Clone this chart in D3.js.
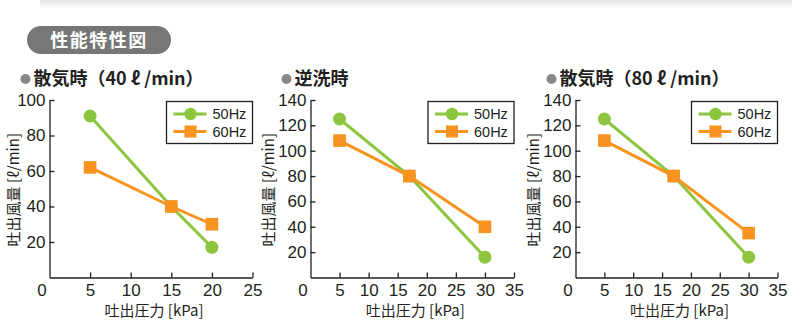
<!DOCTYPE html>
<html>
<head>
<meta charset="utf-8">
<script src="https://cdn.jsdelivr.net/npm/d3@7"></script>
<style>
  body { margin: 0; background: #fff; }
  svg { display: block; font-family: "Liberation Sans", "Noto Sans CJK JP", sans-serif; }
</style>
</head>
<body>
<div id="chart"></div>
<script>
// data
const seriesNames = ['50Hz', '60Hz'];
const chartTitles = ['散気時（40 ℓ /min）', '逆洗時', '散気時（80 ℓ /min）'];
const pressure1 = [5, 15, 20];
const flow50Hz1 = [91, 40, 17];
const flow60Hz1 = [62, 40, 30];
const pressure2 = [5, 17, 30];
const flow50Hz2 = [125, 80, 16];
const flow60Hz2 = [108, 80, 40];
const pressure3 = [5, 17, 30];
const flow50Hz3 = [125, 80, 16];
const flow60Hz3 = [108, 80, 35];
const xTicks1 = [0, 5, 10, 15, 20, 25];
const xTicks23 = [0, 5, 10, 15, 20, 25, 30, 35];
const yTicks1 = [20, 40, 60, 80, 100];
const yTicks23 = [20, 40, 60, 80, 100, 120, 140];

const colors = { '50Hz': '#8cc63f', '60Hz': '#f7931e' };
const ink = '#231f20';

const width = 809, height = 327;
const svg = d3.select('#chart').append('svg')
  .attr('width', width)
  .attr('height', height);

// faint band at the top
const defs = svg.append('defs');
const grad = defs.append('linearGradient').attr('id', 'topband').attr('x1', 0).attr('x2', 0).attr('y1', 0).attr('y2', 1);
grad.append('stop').attr('offset', 0).attr('stop-color', '#e4e4e4');
grad.append('stop').attr('offset', 1).attr('stop-color', '#fff');
svg.append('rect').attr('x', 40).attr('y', 0).attr('width', 752).attr('height', 9).attr('fill', 'url(#topband)');

// header badge
svg.append('rect')
  .attr('x', 27).attr('y', 26).attr('width', 144).attr('height', 28)
  .attr('rx', 14).attr('fill', '#777');
svg.append('text')
  .attr('x', 99).attr('y', 47)
  .attr('text-anchor', 'middle')
  .attr('fill', '#fff')
  .attr('font-family', '"Noto Sans CJK JP", sans-serif')
  .attr('font-weight', 'bold')
  .attr('font-size', 18)
  .attr('letter-spacing', 1.5)
  .text('性能特性図');

const charts = [
  { title: chartTitles[0], x: pressure1, s50: flow50Hz1, s60: flow60Hz1, xMax: 25, yMax: 100,
    xTicks: xTicks1, yTicks: yTicks1, left: 49.5, right: 252.5, labelOff: 36 },
  { title: chartTitles[1], x: pressure2, s50: flow50Hz2, s60: flow60Hz2, xMax: 35, yMax: 140,
    xTicks: xTicks23, yTicks: yTicks23, left: 310.5, right: 514, labelOff: 42 },
  { title: chartTitles[2], x: pressure3, s50: flow50Hz3, s60: flow60Hz3, xMax: 35, yMax: 140,
    xTicks: xTicks23, yTicks: yTicks23, left: 575.5, right: 777.5, labelOff: 42 }
];

const plotTop = 100, plotBottom = 277.5;

charts.forEach(c => {
  const g = svg.append('g');
  const x = d3.scaleLinear().domain([0, c.xMax]).range([c.left, c.right]);
  const y = d3.scaleLinear().domain([0, c.yMax]).range([plotBottom, plotTop]);

  // title
  g.append('circle').attr('cx', c.left - 24).attr('cy', 79).attr('r', 5).attr('fill', '#888');
  g.append('text')
    .attr('x', c.left - 16).attr('y', 85)
    .attr('fill', ink)
    .attr('font-family', '"Noto Sans CJK JP", sans-serif')
    .attr('font-weight', 'bold')
    .attr('font-size', 18)
    .text(c.title);

  // axes
  const xAxis = g.append('g')
    .attr('transform', `translate(0,${plotBottom})`)
    .call(d3.axisBottom(x).tickValues(c.xTicks).tickSize(-5).tickPadding(5).tickSizeOuter(0));
  xAxis.selectAll('.tick').filter(d => d === 0).select('line').remove();
  xAxis.selectAll('.tick').filter(d => d === 0).select('text').attr('dx', -8);

  const yAxis = g.append('g')
    .attr('transform', `translate(${c.left},0)`)
    .call(d3.axisLeft(y).tickValues(c.yTicks).tickSize(-5).tickPadding(4).tickSizeOuter(0));

  [xAxis, yAxis].forEach(a => {
    a.select('.domain').attr('stroke', ink).attr('stroke-width', 1.3);
    a.selectAll('.tick line').attr('stroke', ink).attr('stroke-width', 1.3);
    a.selectAll('.tick text').attr('fill', ink).attr('font-size', 17)
      .attr('font-family', '"Liberation Sans", Arial, sans-serif');
  });
  xAxis.selectAll('.tick text').attr('dy', '0.8em');

  // axis titles
  g.append('text')
    .attr('transform', `translate(${c.left - c.labelOff},${(plotTop + plotBottom) / 2 + 1}) rotate(-90)`)
    .attr('text-anchor', 'middle')
    .attr('dy', '0.35em')
    .attr('fill', ink)
    .attr('font-family', '"Noto Sans CJK JP", sans-serif')
    .attr('font-size', 15)
    .text('吐出風量 [ℓ/min]');
  g.append('text')
    .attr('x', (c.left + c.right) / 2 + 3).attr('y', 316)
    .attr('text-anchor', 'middle')
    .attr('fill', ink)
    .attr('font-family', '"Noto Sans CJK JP", sans-serif')
    .attr('font-size', 15)
    .text('吐出圧力 [kPa]');

  // series
  const line = d3.line().x(d => x(d[0])).y(d => y(d[1]));
  [['50Hz', c.s50], ['60Hz', c.s60]].forEach(([name, vals]) => {
    const pts = c.x.map((v, i) => [v, vals[i]]);
    g.append('path')
      .datum(pts)
      .attr('d', line)
      .attr('fill', 'none')
      .attr('stroke', colors[name])
      .attr('stroke-width', 3);
    if (name === '50Hz') {
      g.selectAll(null).data(pts).enter().append('circle')
        .attr('cx', d => x(d[0])).attr('cy', d => y(d[1]))
        .attr('r', 6.5).attr('fill', colors[name]);
    } else {
      g.selectAll(null).data(pts).enter().append('rect')
        .attr('x', d => x(d[0]) - 6.3).attr('y', d => y(d[1]) - 6.3)
        .attr('width', 12.6).attr('height', 12.6).attr('fill', colors[name]);
    }
  });

  // legend
  const bx = c.right - 86, by = 101.5;
  const lg = g.append('g');
  lg.append('rect')
    .attr('x', bx).attr('y', by).attr('width', 86).attr('height', 42)
    .attr('fill', '#fff').attr('stroke', ink).attr('stroke-width', 1.3);
  seriesNames.forEach((name, i) => {
    const ly = by + 12.5 + i * 17.5;
    lg.append('line')
      .attr('x1', bx + 7).attr('x2', bx + 40).attr('y1', ly).attr('y2', ly)
      .attr('stroke', colors[name]).attr('stroke-width', 3);
    if (i === 0) {
      lg.append('circle').attr('cx', bx + 24).attr('cy', ly).attr('r', 6.2).attr('fill', colors[name]);
    } else {
      lg.append('rect').attr('x', bx + 18).attr('y', ly - 6).attr('width', 12).attr('height', 12).attr('fill', colors[name]);
    }
    lg.append('text')
      .attr('x', bx + 46).attr('y', ly + 5)
      .attr('fill', ink)
      .attr('font-size', 14.5)
      .text(name);
  });
});
</script>
</body>
</html>
